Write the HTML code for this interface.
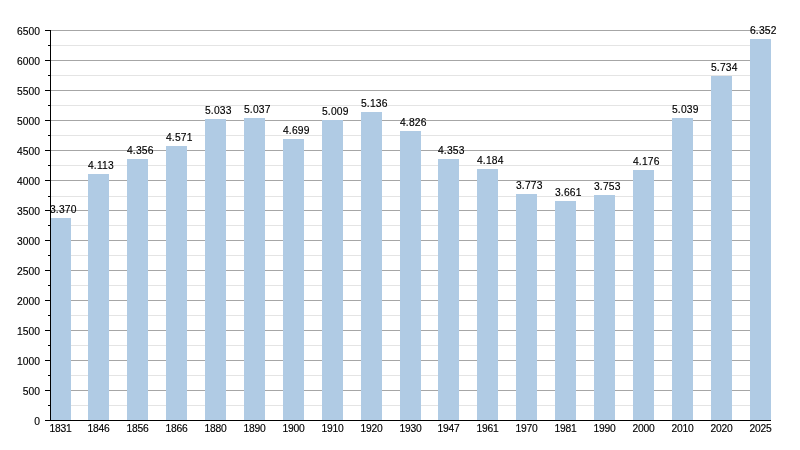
<!DOCTYPE html>
<html><head><meta charset="utf-8"><style>
html,body{margin:0;padding:0;background:#fff;width:800px;height:450px;overflow:hidden;position:relative}
text{font-family:"Liberation Sans",sans-serif;font-size:10.3px;fill:#000;stroke:#000;stroke-width:0.15px;letter-spacing:-0.2px}
</style></head><body>
<svg width="800" height="450" viewBox="0 0 800 450" style="position:absolute;left:0;top:0;will-change:transform">
<line x1="51" y1="405.5" x2="771" y2="405.5" stroke="#e4e4e4" stroke-width="1"/>
<line x1="51" y1="375.5" x2="771" y2="375.5" stroke="#e4e4e4" stroke-width="1"/>
<line x1="51" y1="345.5" x2="771" y2="345.5" stroke="#e4e4e4" stroke-width="1"/>
<line x1="51" y1="315.5" x2="771" y2="315.5" stroke="#e4e4e4" stroke-width="1"/>
<line x1="51" y1="285.5" x2="771" y2="285.5" stroke="#e4e4e4" stroke-width="1"/>
<line x1="51" y1="255.5" x2="771" y2="255.5" stroke="#e4e4e4" stroke-width="1"/>
<line x1="51" y1="225.5" x2="771" y2="225.5" stroke="#e4e4e4" stroke-width="1"/>
<line x1="51" y1="196.5" x2="771" y2="196.5" stroke="#e4e4e4" stroke-width="1"/>
<line x1="51" y1="165.5" x2="771" y2="165.5" stroke="#e4e4e4" stroke-width="1"/>
<line x1="51" y1="135.5" x2="771" y2="135.5" stroke="#e4e4e4" stroke-width="1"/>
<line x1="51" y1="105.5" x2="771" y2="105.5" stroke="#e4e4e4" stroke-width="1"/>
<line x1="51" y1="75.5" x2="771" y2="75.5" stroke="#e4e4e4" stroke-width="1"/>
<line x1="51" y1="45.5" x2="771" y2="45.5" stroke="#e4e4e4" stroke-width="1"/>
<line x1="51" y1="390.5" x2="771" y2="390.5" stroke="#a6a6a6" stroke-width="1"/>
<line x1="51" y1="360.5" x2="771" y2="360.5" stroke="#a6a6a6" stroke-width="1"/>
<line x1="51" y1="330.5" x2="771" y2="330.5" stroke="#a6a6a6" stroke-width="1"/>
<line x1="51" y1="300.5" x2="771" y2="300.5" stroke="#a6a6a6" stroke-width="1"/>
<line x1="51" y1="270.5" x2="771" y2="270.5" stroke="#a6a6a6" stroke-width="1"/>
<line x1="51" y1="240.5" x2="771" y2="240.5" stroke="#a6a6a6" stroke-width="1"/>
<line x1="51" y1="210.5" x2="771" y2="210.5" stroke="#a6a6a6" stroke-width="1"/>
<line x1="51" y1="180.5" x2="771" y2="180.5" stroke="#a6a6a6" stroke-width="1"/>
<line x1="51" y1="150.5" x2="771" y2="150.5" stroke="#a6a6a6" stroke-width="1"/>
<line x1="51" y1="120.5" x2="771" y2="120.5" stroke="#a6a6a6" stroke-width="1"/>
<line x1="51" y1="90.5" x2="771" y2="90.5" stroke="#a6a6a6" stroke-width="1"/>
<line x1="51" y1="60.5" x2="771" y2="60.5" stroke="#a6a6a6" stroke-width="1"/>
<line x1="51" y1="30.5" x2="771" y2="30.5" stroke="#a6a6a6" stroke-width="1"/>
<rect x="51" y="218" width="20" height="202" fill="#b0cbe4"/>
<rect x="88" y="174" width="21" height="246" fill="#b0cbe4"/>
<rect x="127" y="159" width="21" height="261" fill="#b0cbe4"/>
<rect x="166" y="146" width="21" height="274" fill="#b0cbe4"/>
<rect x="205" y="119" width="21" height="301" fill="#b0cbe4"/>
<rect x="244" y="118" width="21" height="302" fill="#b0cbe4"/>
<rect x="283" y="139" width="21" height="281" fill="#b0cbe4"/>
<rect x="322" y="120" width="21" height="300" fill="#b0cbe4"/>
<rect x="361" y="112" width="21" height="308" fill="#b0cbe4"/>
<rect x="400" y="131" width="21" height="289" fill="#b0cbe4"/>
<rect x="438" y="159" width="21" height="261" fill="#b0cbe4"/>
<rect x="477" y="169" width="21" height="251" fill="#b0cbe4"/>
<rect x="516" y="194" width="21" height="226" fill="#b0cbe4"/>
<rect x="555" y="201" width="21" height="219" fill="#b0cbe4"/>
<rect x="594" y="195" width="21" height="225" fill="#b0cbe4"/>
<rect x="633" y="170" width="21" height="250" fill="#b0cbe4"/>
<rect x="672" y="118" width="21" height="302" fill="#b0cbe4"/>
<rect x="711" y="76" width="21" height="344" fill="#b0cbe4"/>
<rect x="750" y="39" width="21" height="381" fill="#b0cbe4"/>
<line x1="50.5" y1="30" x2="50.5" y2="421" stroke="#000" stroke-width="1"/>
<line x1="45" y1="420.5" x2="771" y2="420.5" stroke="#000" stroke-width="1"/>
<line x1="45" y1="420.5" x2="50" y2="420.5" stroke="#000" stroke-width="1"/>
<line x1="48" y1="405.5" x2="50" y2="405.5" stroke="#000" stroke-width="1"/>
<line x1="45" y1="390.5" x2="50" y2="390.5" stroke="#000" stroke-width="1"/>
<line x1="48" y1="375.5" x2="50" y2="375.5" stroke="#000" stroke-width="1"/>
<line x1="45" y1="360.5" x2="50" y2="360.5" stroke="#000" stroke-width="1"/>
<line x1="48" y1="345.5" x2="50" y2="345.5" stroke="#000" stroke-width="1"/>
<line x1="45" y1="330.5" x2="50" y2="330.5" stroke="#000" stroke-width="1"/>
<line x1="48" y1="315.5" x2="50" y2="315.5" stroke="#000" stroke-width="1"/>
<line x1="45" y1="300.5" x2="50" y2="300.5" stroke="#000" stroke-width="1"/>
<line x1="48" y1="285.5" x2="50" y2="285.5" stroke="#000" stroke-width="1"/>
<line x1="45" y1="270.5" x2="50" y2="270.5" stroke="#000" stroke-width="1"/>
<line x1="48" y1="255.5" x2="50" y2="255.5" stroke="#000" stroke-width="1"/>
<line x1="45" y1="240.5" x2="50" y2="240.5" stroke="#000" stroke-width="1"/>
<line x1="48" y1="225.5" x2="50" y2="225.5" stroke="#000" stroke-width="1"/>
<line x1="45" y1="210.5" x2="50" y2="210.5" stroke="#000" stroke-width="1"/>
<line x1="48" y1="196.5" x2="50" y2="196.5" stroke="#000" stroke-width="1"/>
<line x1="45" y1="180.5" x2="50" y2="180.5" stroke="#000" stroke-width="1"/>
<line x1="48" y1="165.5" x2="50" y2="165.5" stroke="#000" stroke-width="1"/>
<line x1="45" y1="150.5" x2="50" y2="150.5" stroke="#000" stroke-width="1"/>
<line x1="48" y1="135.5" x2="50" y2="135.5" stroke="#000" stroke-width="1"/>
<line x1="45" y1="120.5" x2="50" y2="120.5" stroke="#000" stroke-width="1"/>
<line x1="48" y1="105.5" x2="50" y2="105.5" stroke="#000" stroke-width="1"/>
<line x1="45" y1="90.5" x2="50" y2="90.5" stroke="#000" stroke-width="1"/>
<line x1="48" y1="75.5" x2="50" y2="75.5" stroke="#000" stroke-width="1"/>
<line x1="45" y1="60.5" x2="50" y2="60.5" stroke="#000" stroke-width="1"/>
<line x1="48" y1="45.5" x2="50" y2="45.5" stroke="#000" stroke-width="1"/>
<line x1="45" y1="30.5" x2="50" y2="30.5" stroke="#000" stroke-width="1"/>
<text x="40" y="424.60" text-anchor="end" style="letter-spacing:0">0</text>
<text x="40" y="394.60" text-anchor="end" style="letter-spacing:0">500</text>
<text x="40" y="364.60" text-anchor="end" style="letter-spacing:0">1000</text>
<text x="40" y="334.60" text-anchor="end" style="letter-spacing:0">1500</text>
<text x="40" y="304.60" text-anchor="end" style="letter-spacing:0">2000</text>
<text x="40" y="274.60" text-anchor="end" style="letter-spacing:0">2500</text>
<text x="40" y="244.60" text-anchor="end" style="letter-spacing:0">3000</text>
<text x="40" y="214.60" text-anchor="end" style="letter-spacing:0">3500</text>
<text x="40" y="184.60" text-anchor="end" style="letter-spacing:0">4000</text>
<text x="40" y="154.60" text-anchor="end" style="letter-spacing:0">4500</text>
<text x="40" y="124.60" text-anchor="end" style="letter-spacing:0">5000</text>
<text x="40" y="94.60" text-anchor="end" style="letter-spacing:0">5500</text>
<text x="40" y="64.60" text-anchor="end" style="letter-spacing:0">6000</text>
<text x="40" y="34.60" text-anchor="end" style="letter-spacing:0">6500</text>
<text x="49.50" y="432.3">1831</text>
<text x="87.50" y="432.3">1846</text>
<text x="126.50" y="432.3">1856</text>
<text x="165.50" y="432.3">1866</text>
<text x="204.50" y="432.3">1880</text>
<text x="243.50" y="432.3">1890</text>
<text x="282.50" y="432.3">1900</text>
<text x="321.50" y="432.3">1910</text>
<text x="360.50" y="432.3">1920</text>
<text x="399.50" y="432.3">1930</text>
<text x="437.50" y="432.3">1947</text>
<text x="476.50" y="432.3">1961</text>
<text x="515.50" y="432.3">1970</text>
<text x="554.50" y="432.3">1981</text>
<text x="593.50" y="432.3">1990</text>
<text x="632.50" y="432.3">2000</text>
<text x="671.50" y="432.3">2010</text>
<text x="710.50" y="432.3">2020</text>
<text x="749.50" y="432.3">2025</text>
<text x="49.90" y="213" style="letter-spacing:0.2px">3.370</text>
<text x="87.90" y="169" style="letter-spacing:0.2px">4.113</text>
<text x="126.90" y="154" style="letter-spacing:0.2px">4.356</text>
<text x="165.90" y="141" style="letter-spacing:0.2px">4.571</text>
<text x="204.90" y="114" style="letter-spacing:0.2px">5.033</text>
<text x="243.90" y="113" style="letter-spacing:0.2px">5.037</text>
<text x="282.90" y="134" style="letter-spacing:0.2px">4.699</text>
<text x="321.90" y="115" style="letter-spacing:0.2px">5.009</text>
<text x="360.90" y="107" style="letter-spacing:0.2px">5.136</text>
<text x="399.90" y="126" style="letter-spacing:0.2px">4.826</text>
<text x="437.90" y="154" style="letter-spacing:0.2px">4.353</text>
<text x="476.90" y="164" style="letter-spacing:0.2px">4.184</text>
<text x="515.90" y="189" style="letter-spacing:0.2px">3.773</text>
<text x="554.90" y="196" style="letter-spacing:0.2px">3.661</text>
<text x="593.90" y="190" style="letter-spacing:0.2px">3.753</text>
<text x="632.90" y="165" style="letter-spacing:0.2px">4.176</text>
<text x="671.90" y="113" style="letter-spacing:0.2px">5.039</text>
<text x="710.90" y="71" style="letter-spacing:0.2px">5.734</text>
<text x="749.90" y="34" style="letter-spacing:0.2px">6.352</text>
</svg>
</body></html>
